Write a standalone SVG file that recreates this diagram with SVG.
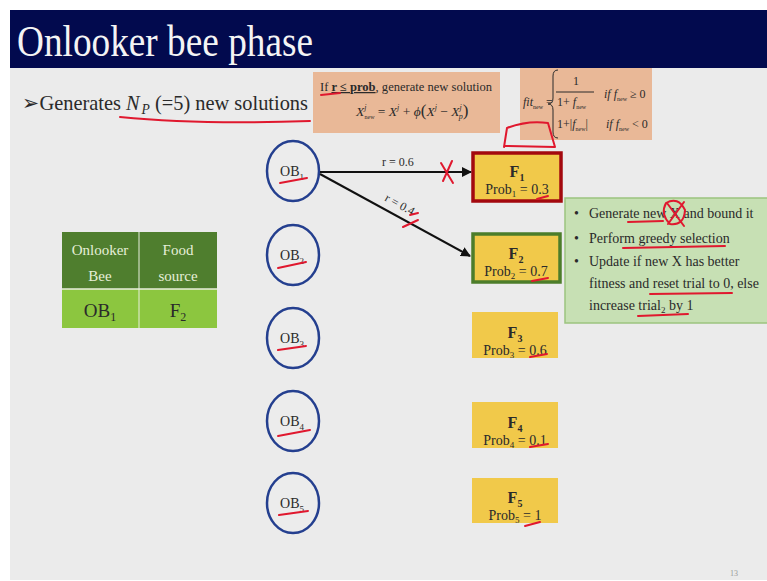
<svg xmlns="http://www.w3.org/2000/svg" width="767" height="581" viewBox="0 0 767 581">
<defs>
<style>
.s{font-family:"Liberation Serif","DejaVu Serif","Noto Serif","Times New Roman",serif;fill:#2a2a2a}
.ob{fill:#ececec;stroke:#243f8f;stroke-width:2.5}
.fb{fill:#f1c94a}
.ft{font-size:16px;font-weight:bold;text-anchor:middle}
.pt{font-size:14px;text-anchor:middle}
.red{fill:none;stroke:#e0182e;stroke-width:2;stroke-linecap:round;stroke-linejoin:round}
.conn{stroke:#111;stroke-width:2;fill:none;marker-end:url(#ah)}
.bul{font-size:14px}
</style>
<marker id="ah" viewBox="0 0 10 10" refX="9" refY="5" markerWidth="5" markerHeight="5" orient="auto"><path d="M0,0 L10,5 L0,10 z" fill="#111"/></marker>
</defs>
<rect x="0" y="0" width="767" height="581" fill="#ffffff"/>
<rect x="10" y="10" width="757" height="570" fill="#ebebeb"/>
<g id="title">
<rect x="10" y="10" width="757" height="58" fill="#020a4e"/>
<text class="s" x="17" y="56" font-size="44" style="fill:#f4f4f4" textLength="296" lengthAdjust="spacingAndGlyphs">Onlooker bee phase</text>
</g>
<g id="bullet">
<text class="s" x="22" y="110" font-size="21" textLength="286" lengthAdjust="spacingAndGlyphs">➢Generates <tspan font-style="italic">N</tspan><tspan font-size="14" font-style="italic" dx="2" dy="4">P</tspan><tspan dy="-4"> (=5) new solutions</tspan></text>
</g>
<g id="cond-box">
<rect x="313" y="72" width="187" height="61" fill="#e9b897"/>
<text class="s" x="320" y="91" font-size="12.5" textLength="172" lengthAdjust="spacingAndGlyphs">If <tspan font-weight="bold" text-decoration="underline">r ≤ prob</tspan>, generate new solution</text>
<text class="s" x="356" y="116" font-size="13.5"><tspan font-style="italic">X</tspan><tspan font-size="8" font-style="italic" dy="-6">j</tspan><tspan font-size="6" dx="-2" dy="9">new</tspan><tspan dy="-3"> = </tspan><tspan font-style="italic">X</tspan><tspan font-size="8" font-style="italic" dy="-6">j</tspan><tspan dy="6"> + </tspan><tspan font-style="italic">ϕ</tspan><tspan font-size="17">(</tspan><tspan font-style="italic">X</tspan><tspan font-size="8" font-style="italic" dy="-6">j</tspan><tspan dy="6"> − </tspan><tspan font-style="italic">X</tspan><tspan font-size="8" font-style="italic" dy="-6">j</tspan><tspan font-size="8" font-style="italic" dx="-3" dy="9">p</tspan><tspan font-size="17" dy="-3">)</tspan></text>
</g>
<g id="fit-box">
<rect x="520" y="68" width="132" height="72" fill="#e9b897"/>
<text class="s" x="523" y="106" font-size="12"><tspan font-style="italic">fit</tspan><tspan font-size="6" dy="3">new</tspan><tspan dy="-3"> =</tspan></text>
<path d="M558,70 Q553,70 553,76 L553,98 Q553,104 548,104 Q553,104 553,110 L553,132 Q553,138 558,138" fill="none" stroke="#2a2a2a" stroke-width="1"/>
<text class="s" x="576" y="85" font-size="12" text-anchor="middle">1</text>
<line x1="556" y1="92" x2="594" y2="92" stroke="#2a2a2a" stroke-width="1"/>
<text class="s" x="557" y="106" font-size="12">1+ <tspan font-style="italic">f</tspan><tspan font-size="6" dy="3">new</tspan></text>
<text class="s" x="604" y="98" font-size="12"><tspan font-style="italic">if  f</tspan><tspan font-size="6" dy="3">new</tspan><tspan dy="-3"> ≥ 0</tspan></text>
<text class="s" x="557" y="128" font-size="12">1+|<tspan font-style="italic">f</tspan><tspan font-size="6" dy="3">new</tspan><tspan dy="-3">|</tspan></text>
<text class="s" x="606" y="128" font-size="12"><tspan font-style="italic">if  f</tspan><tspan font-size="6" dy="3">new</tspan><tspan dy="-3"> &lt; 0</tspan></text>
</g>
<g id="table">
<rect x="62" y="232" width="155" height="57" fill="#4f7e2e"/>
<rect x="62" y="289" width="155" height="39" fill="#8cc63f"/>
<line x1="139" y1="232" x2="139" y2="328" stroke="#e8eede" stroke-width="1"/>
<line x1="62" y1="289" x2="217" y2="289" stroke="#e8eede" stroke-width="1.5"/>
<text class="s" x="100" y="255" font-size="15" text-anchor="middle" style="fill:#e6efd9">Onlooker</text>
<text class="s" x="100" y="281" font-size="15" text-anchor="middle" style="fill:#e6efd9">Bee</text>
<text class="s" x="178" y="255" font-size="15" text-anchor="middle" style="fill:#e6efd9">Food</text>
<text class="s" x="178" y="281" font-size="15" text-anchor="middle" style="fill:#e6efd9">source</text>
<text class="s" x="100" y="317" font-size="19" text-anchor="middle">OB<tspan font-size="12" dy="4">1</tspan></text>
<text class="s" x="178" y="317" font-size="19" text-anchor="middle">F<tspan font-size="12" dy="4">2</tspan></text>
</g>
<g id="OB1"><ellipse class="ob" cx="293" cy="171" rx="26" ry="30"/><text class="s" x="292" y="176" font-size="14" text-anchor="middle">OB<tspan font-size="9" dy="4">1</tspan></text></g>
<g id="OB2"><ellipse class="ob" cx="293" cy="255" rx="26" ry="30"/><text class="s" x="292" y="260" font-size="14" text-anchor="middle">OB<tspan font-size="9" dy="4">2</tspan></text></g>
<g id="OB3"><ellipse class="ob" cx="293" cy="338" rx="26" ry="30"/><text class="s" x="292" y="343" font-size="14" text-anchor="middle">OB<tspan font-size="9" dy="4">3</tspan></text></g>
<g id="OB4"><ellipse class="ob" cx="293" cy="421" rx="26" ry="30"/><text class="s" x="292" y="426" font-size="14" text-anchor="middle">OB<tspan font-size="9" dy="4">4</tspan></text></g>
<g id="OB5"><ellipse class="ob" cx="293" cy="503" rx="26" ry="30"/><text class="s" x="292" y="508" font-size="14" text-anchor="middle">OB<tspan font-size="9" dy="4">5</tspan></text></g>
<g id="F1"><rect class="fb" x="473" y="153" width="88" height="48" stroke="#a3080e" stroke-width="3.5"/><text class="s ft" x="517" y="177">F<tspan font-size="10" dy="4">1</tspan></text><text class="s pt" x="517" y="194">Prob<tspan font-size="9" dy="3">1</tspan><tspan dy="-3"> = 0.3</tspan></text></g>
<g id="F2"><rect class="fb" x="473" y="234" width="87" height="48" stroke="#4c7d2a" stroke-width="3.5"/><text class="s ft" x="516" y="259">F<tspan font-size="10" dy="4">2</tspan></text><text class="s pt" x="516" y="276">Prob<tspan font-size="9" dy="3">2</tspan><tspan dy="-3"> = 0.7</tspan></text></g>
<g id="F3"><rect class="fb" x="472" y="312" width="86" height="46"/><text class="s ft" x="515" y="338">F<tspan font-size="10" dy="4">3</tspan></text><text class="s pt" x="515" y="355">Prob<tspan font-size="9" dy="3">3</tspan><tspan dy="-3"> = 0.6</tspan></text></g>
<g id="F4"><rect class="fb" x="472" y="402" width="86" height="46"/><text class="s ft" x="515" y="428">F<tspan font-size="10" dy="4">4</tspan></text><text class="s pt" x="515" y="445">Prob<tspan font-size="9" dy="3">4</tspan><tspan dy="-3"> = 0.1</tspan></text></g>
<g id="F5"><rect class="fb" x="472" y="478" width="86" height="45"/><text class="s ft" x="515" y="503">F<tspan font-size="10" dy="4">5</tspan></text><text class="s pt" x="515" y="520">Prob<tspan font-size="9" dy="3">5</tspan><tspan dy="-3"> = 1</tspan></text></g>
<g id="steps">
<rect x="565" y="198" width="205" height="125" fill="#c7e0b4" stroke="#9cc47f" stroke-width="1.5"/>
<g class="s bul">
<text x="574" y="218">•</text><text x="589" y="218">Generate new X and bound it</text>
<text x="574" y="243">•</text><text x="589" y="243">Perform greedy selection</text>
<text x="574" y="266">•</text><text x="589" y="266">Update if new X has better</text>
<text x="589" y="288">fitness and reset trial to 0, else</text>
<text x="589" y="310">increase trial<tspan font-size="9" dy="3">2</tspan><tspan dy="-3"> by 1</tspan></text>
</g>
</g>
<g id="connectors">
<line class="conn" x1="320" y1="172" x2="471" y2="172"/>
<line class="conn" x1="320" y1="174" x2="470" y2="256"/>
<text class="s" x="398" y="166" font-size="12" text-anchor="middle">r = 0.6</text>
<text class="s" x="398" y="208" font-size="12" text-anchor="middle" transform="rotate(28.7 398 208)">r = 0.4</text>
</g>
<g id="annotations">
<path class="red" d="M120,117 Q200,125 310,121"/>
<path class="red" d="M321,95 L340,93"/>
<path class="red" d="M504,147 L507,128 Q528,120 548,123 L555,147 L505,146"/>
<path class="red" d="M280,183 L307,178"/>
<path class="red" d="M278,268 L306,262"/>
<path class="red" d="M278,350 L306,346"/>
<path class="red" d="M278,436 L310,430"/>
<path class="red" d="M279,515 L308,511"/>
<path class="red" d="M441,163 L453,183 M452,161 L443,181"/>
<path class="red" d="M403,227 L418,220 M410,215 L418,213"/>
<path class="red" d="M537,199 L548,196"/>
<path class="red" d="M532,281 L548,278"/>
<path class="red" d="M530,357 L547,354"/>
<path class="red" d="M530,447 L548,444"/>
<path class="red" d="M525,526 L540,522"/>
<path class="red" d="M666,203 Q678,196 685,210 Q684,226 670,224 Q660,214 666,203 M667,203 L684,226 M684,202 L668,224"/>
<path class="red" d="M628,222 L663,221"/>
<path class="red" d="M623,248 L725,246"/>
<path class="red" d="M650,294 L732,293"/>
<path class="red" d="M638,316 L688,314"/>
</g>
<text class="s" x="730" y="576" font-size="8" style="fill:#9a9a9a">13</text>
</svg>
